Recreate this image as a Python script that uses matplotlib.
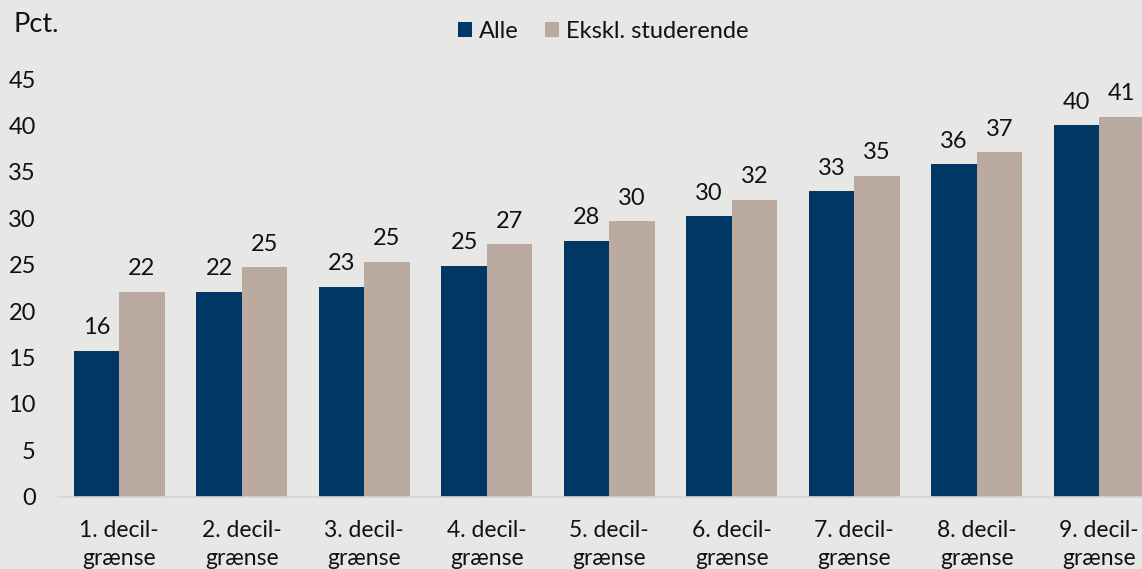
import numpy as np
import matplotlib
matplotlib.use('Agg')
import matplotlib.pyplot as plt

plt.rcParams['font.family'] = ['Lato', 'DejaVu Sans']

# data
categories = ['1. decil-\ngrænse', '2. decil-\ngrænse', '3. decil-\ngrænse',
              '4. decil-\ngrænse', '5. decil-\ngrænse', '6. decil-\ngrænse',
              '7. decil-\ngrænse', '8. decil-\ngrænse', '9. decil-\ngrænse']
alle = [15.7, 22.1, 22.6, 24.9, 27.6, 30.2, 32.9, 35.8, 40.0]
ekskl = [22.1, 24.7, 25.3, 27.2, 29.7, 32.0, 34.6, 37.1, 40.95]
series_names = ['Alle', 'Ekskl. studerende']
yticks = [0, 5, 10, 15, 20, 25, 30, 35, 40, 45]

navy = '#003764'
beige = '#bbaa9f'
bg = '#e7e7e5'
txt = '#111111'

fig = plt.figure(figsize=(11.42, 5.69), dpi=100, facecolor=bg)
# axes slightly wider than the figure so the last group is clipped like the original
ax = fig.add_axes([58 / 1142, 72.3 / 569, 1102.5 / 1142, 417.7 / 569])
ax.set_facecolor(bg)

x = np.arange(len(categories))
w = 0.37
b1 = ax.bar(x - w / 2, alle, w, color=navy, label=series_names[0])
b2 = ax.bar(x + w / 2, ekskl, w, color=beige, label=series_names[1])

for bars, vals in ((b1, alle), (b2, ekskl)):
    for rect, v in zip(bars, vals):
        ax.annotate(f'{int(v + 0.5)}', (rect.get_x() + rect.get_width() / 2, v),
                    xytext=(0, 9), textcoords='offset points',
                    ha='center', va='bottom', fontsize=17, color=txt)

ax.set_xlim(-0.5, 8.5)
ax.set_ylim(0, 45)
ax.set_yticks(yticks)
ax.set_xticks(x)
ax.set_xticklabels(categories, fontsize=16.5, linespacing=1.42)
ax.tick_params(axis='y', labelsize=17, length=0, pad=16, labelcolor=txt)
ax.tick_params(axis='x', length=0, pad=17, labelcolor=txt)

for s in ['top', 'right', 'left']:
    ax.spines[s].set_visible(False)
ax.spines['bottom'].set_color('#d4d4d2')
ax.spines['bottom'].set_linewidth(1.2)

fig.text(13 / 1142, 1 - 24 / 569, 'Pct.', fontsize=19.5, va='center', ha='left', color=txt)

fig.legend(loc='center', bbox_to_anchor=(603 / 1142, 1 - 31 / 569), ncol=2,
           frameon=False, fontsize=17, handlelength=0.6, handleheight=0.6,
           handletextpad=0.3, columnspacing=1.1, labelcolor=txt)

fig.savefig('out.png', dpi=100, facecolor=bg)
